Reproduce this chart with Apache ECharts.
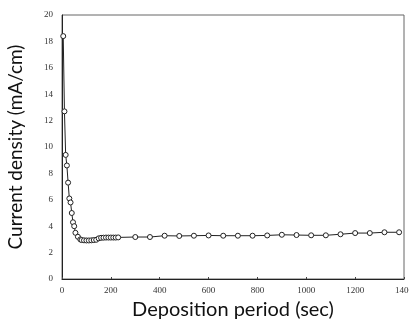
<!DOCTYPE html>
<html>
<head>
<meta charset="utf-8">
<script src="https://cdn.jsdelivr.net/npm/echarts@6/dist/echarts.min.js"></script>
<style>
  html, body { margin: 0; padding: 0; background: #fff; }
  #chart { width: 409px; height: 326px; }
</style>
</head>
<body>
<div id="chart"></div>
<script>
// Deposition time (s) and measured current density (mA/cm)
const timeSec = [
  5, 10, 15, 20, 25, 30, 35, 40, 45, 50, 55, 65, 75,
  80, 90, 100, 110, 120, 130, 140,
  150, 160, 170, 180, 190, 200, 210, 220, 230,
  300, 360, 420, 480, 540, 600, 660, 720, 780, 840,
  900, 960, 1020, 1080, 1140, 1200, 1260, 1320, 1380
];
const currentDensity = [
  18.4, 12.7, 9.4, 8.6, 7.3, 6.1, 5.8, 5.0, 4.3, 4.0, 3.5, 3.2, 3.0,
  2.95, 2.93, 2.92, 2.92, 2.93, 2.95, 2.97,
  3.08, 3.12, 3.13, 3.14, 3.14, 3.14, 3.14, 3.14, 3.15,
  3.18, 3.18, 3.28, 3.26, 3.28, 3.30, 3.28, 3.28, 3.28, 3.30,
  3.35, 3.33, 3.31, 3.31, 3.39, 3.48, 3.48, 3.54, 3.54
];
const xTicks = { min: 0, max: 1400, step: 200 };
const yTicks = { min: 0, max: 20, step: 2 };

const points = timeSec.map((t, i) => [t, currentDensity[i]]);

const chart = echarts.init(document.getElementById('chart'), null, { renderer: 'canvas' });

const tickFont = { fontFamily: 'Liberation Serif', fontSize: 9, color: '#333' };
const titleFont = { fontFamily: 'Lato', fontSize: 20, color: '#111' };

chart.setOption({
  animation: false,
  backgroundColor: '#fff',
  // thin frame closing the plot on the top and right; the last x label may run off the page
  grid: {
    left: 62, right: 5, top: 15, bottom: 47,
    show: true, borderColor: '#666', borderWidth: 1,
    containLabel: false, outerBoundsMode: 'none'
  },
  xAxis: {
    type: 'value',
    min: xTicks.min, max: xTicks.max, interval: xTicks.step,
    name: 'Deposition period (sec)',
    nameLocation: 'middle',
    nameGap: 21,
    nameTextStyle: titleFont,
    axisLine: { show: true, lineStyle: { color: '#222', width: 1 } },
    axisTick: { show: true, inside: true, length: 2, lineStyle: { color: '#444' } },
    axisLabel: Object.assign({
      margin: 7, formatter: v => String(v),
      alignMaxLabel: 'center', hideOverlap: false
    }, tickFont),
    splitLine: { show: false }
  },
  yAxis: {
    type: 'value',
    min: yTicks.min, max: yTicks.max, interval: yTicks.step,
    name: 'Current density (mA/cm)',
    nameLocation: 'middle',
    nameGap: 37,
    nameTextStyle: Object.assign({}, titleFont, { fontSize: 19 }),
    axisLine: { show: true, lineStyle: { color: '#222', width: 1 } },
    axisTick: { show: false },
    axisLabel: Object.assign({ margin: 9, formatter: v => String(v) }, tickFont),
    splitLine: { show: false }
  },
  series: [{
    type: 'line',
    data: points,
    symbol: 'circle',
    symbolSize: 5,
    showAllSymbol: true,
    itemStyle: { color: '#fff', borderColor: '#222', borderWidth: 1 },
    lineStyle: { color: '#222', width: 1 },
    z: 3
  }]
});
</script>
</body>
</html>
